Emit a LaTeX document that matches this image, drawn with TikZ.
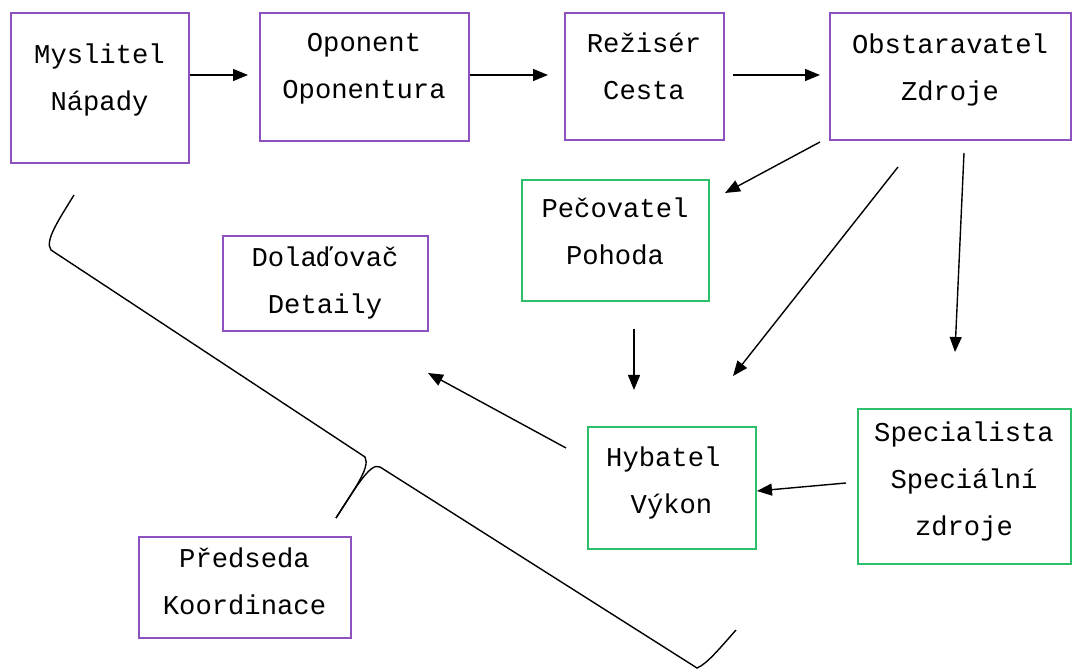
\documentclass[tikz,border=0pt]{standalone}
\usepackage{fontspec}
\newfontfamily\rolefont{Liberation Mono}
\usetikzlibrary{arrows.meta}

\definecolor{rolepurple}{HTML}{8E52C0}
\definecolor{rolegreen}{HTML}{2EBF6A}

\tikzset{
  role/.style={draw=rolepurple, line width=1pt, align=center, inner sep=0pt,
    text depth=0pt, font=\rolefont\fontsize{13.6}{23.5}\selectfont},
  care/.style={role, draw=rolegreen},
  lastline/.style={text height=#1},
  arr/.style={-{Triangle[length=7.5pt,width=6pt]}, line width=0.7pt},
}

\begin{document}
\begin{tikzpicture}[x=0.5pt,y=-0.5pt]
\useasboundingbox (0,0) rectangle (1072,672);

% top row
\node[role, lastline=22pt,   minimum width=89pt,    minimum height=75pt]   (myslitel) at ( 99.5, 88.5) {Myslitel\\Nápady};
\node[role, lastline=21.5pt, minimum width=104.5pt, minimum height=64pt]   (oponent)  at (364,   77.5) {Oponent\\Oponentura};
\node[role, lastline=23pt,   minimum width=79.5pt,  minimum height=63.5pt] (rezser)   at (644,   77  ) {Režisér\\Cesta};
\node[role, lastline=24pt,   minimum width=120.5pt, minimum height=63.5pt] (obstar)   at (950,   77  ) {Obstaravatel\\Zdroje};

% middle and bottom
\node[care, lastline=24pt,   minimum width=93.5pt,  minimum height=60.5pt] (pecovatel)   at (615,   241  ) {Pečovatel\\Pohoda};
\node[role, lastline=30pt,   minimum width=102.5pt, minimum height=47.5pt] (doladovac)   at (325,   284  ) {Dolaďovač\\Detaily};
\node[care, lastline=25.5pt, minimum width=84pt,    minimum height=61pt]   (hybatel)     at (671.5, 488.5) {Hybatel\phantom{x}\\Výkon};
\node[care, lastline=49pt,   minimum width=106.5pt, minimum height=77.5pt] (specialista) at (964,   487  ) {Specialista\\Speciální\\zdroje};
\node[role, lastline=27pt,   minimum width=106pt,   minimum height=50.5pt] (predseda)    at (244.5, 588  ) {Předseda\\Koordinace};

% arrow ends
\coordinate (t1) at (248,75);
\coordinate (t2) at (548,75);
\coordinate (s3) at (733,75);   \coordinate (t3) at (820,75);
\coordinate (s4) at (820,142);  \coordinate (t4) at (725,193);
\coordinate (s5) at (898,167);  \coordinate (t5) at (733,376);
\coordinate (s6) at (964,153);  \coordinate (t6) at (955,352);
\coordinate (s7) at (634,329);  \coordinate (t7) at (634,390);
\coordinate (s8) at (566,448);  \coordinate (t8) at (428,373);
\coordinate (s9) at (846,483);  \coordinate (t9) at (757,491);

\draw[arr] (myslitel.east |- t1) -- (t1);
\draw[arr] (oponent.east |- t2) -- (t2);
\draw[arr] (s3) -- (t3);
\draw[arr] (s4) -- (t4);
\draw[arr] (s5) -- (t5);
\draw[arr] (s6) -- (t6);
\draw[arr] (s7) -- (t7);
\draw[arr] (s8) -- (t8);
\draw[arr] (s9) -- (t9);

% the brace
\coordinate (b1) at (74,195);
\coordinate (b2) at (51,250);
\coordinate (b3) at (365,457);
\coordinate (tip) at (336,518);
\coordinate (b4) at (380,467);
\coordinate (b5) at (697,668);
\coordinate (b6) at (736,630);
\draw[line width=0.7pt] (b1) .. controls (60,218) and (44,241) .. (b2) -- (b3)
  .. controls (371,468) and (352,492) .. (tip);
\draw[line width=0.7pt] (tip) .. controls (352,494) and (370,461) .. (b4) -- (b5)
  .. controls (707,664) and (720,648) .. (b6);
\end{tikzpicture}
\end{document}
